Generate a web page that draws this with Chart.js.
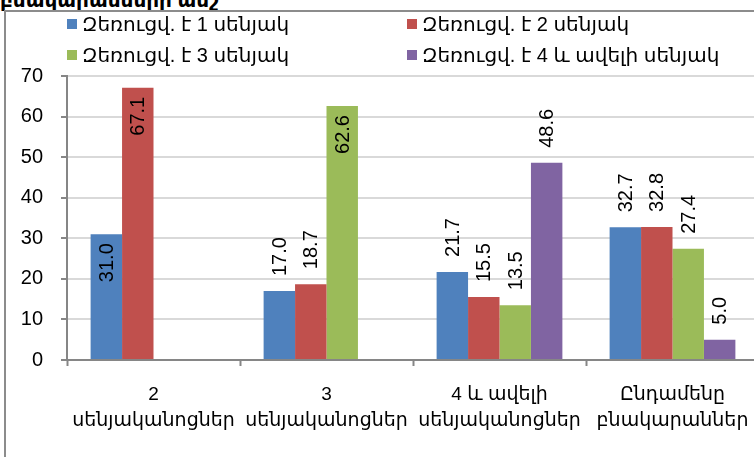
<!DOCTYPE html>
<html>
<head>
<meta charset="utf-8">
<script src="https://cdn.jsdelivr.net/npm/chart.js@4/dist/chart.umd.min.js"></script>
<style>
  html, body { margin: 0; padding: 0; width: 754px; height: 457px; overflow: hidden; background: #fff; }
  #title { position: absolute; left: 0; top: -11px; font: bold 20px Arial, "DejaVu Sans", sans-serif; white-space: nowrap; color: #000; line-height: 22px; }
  #frame { position: absolute; left: 4px; top: 10px; width: 820px; height: 520px; border: 2px solid #8c8c8c; box-sizing: border-box; }
  #chart { position: absolute; left: 0; top: 0; }
  #legend { position: absolute; left: 67px; top: 12px; display: grid; grid-template-columns: 340px auto; grid-auto-rows: 31px; font: 20px Arial, "DejaVu Sans", sans-serif; color: #000; }
  .item { display: flex; align-items: center; white-space: nowrap; height: 24px; }
  .swatch { width: 10px; height: 10px; margin-right: 5px; flex: none; }
</style>
</head>
<body>
<div id="title">բնակարանների ամշ</div>
<div id="frame"></div>
<canvas id="chart" width="800" height="457"></canvas>
<div id="legend"></div>
<script>
// Categories (two-line axis labels)
const categories = [
  ["2", "սենյականոցներ"],
  ["3", "սենյականոցներ"],
  ["4 և ավելի", "սենյականոցներ"],
  ["Ընդամենը", "բնակարաններ"]
];

// Series names
const seriesNames = [
  "Զեռուցվ. է 1 սենյակ",
  "Զեռուցվ. է 2 սենյակ",
  "Զեռուցվ. է 3 սենյակ",
  "Զեռուցվ. է 4 և ավելի սենյակ"
];

// Series values, %
const heated1 = [31.0, 17.0, 21.7, 32.7];
const heated2 = [67.1, 18.7, 15.5, 32.8];
const heated3 = [null, 62.6, 13.5, 27.4];
const heated4 = [null, null, 48.6, 5.0];

// Value axis ticks
const yTicks = [0, 10, 20, 30, 40, 50, 60, 70];

const colors = ["#4F81BD", "#C0504D", "#9BBB59", "#8064A2"];
const FONT = "Arial, 'DejaVu Sans', sans-serif";

// Value labels drawn inside the bar top for these [dataset, index] pairs
const insideLabels = [[0, 0], [1, 0], [2, 1]];

const valueLabels = {
  id: "valueLabels",
  afterDatasetsDraw(chart) {
    const ctx = chart.ctx;
    ctx.save();
    ctx.font = "20px " + FONT;
    ctx.fillStyle = "#000";
    ctx.textBaseline = "middle";
    chart.data.datasets.forEach((ds, di) => {
      const meta = chart.getDatasetMeta(di);
      meta.data.forEach((bar, i) => {
        const v = ds.data[i];
        if (v === null || v === undefined) return;
        const inside = insideLabels.some(p => p[0] === di && p[1] === i);
        ctx.save();
        if (inside) {
          ctx.translate(bar.x + 1, bar.y + 9);
          ctx.rotate(-Math.PI / 2);
          ctx.textAlign = "right";
        } else {
          ctx.translate(bar.x + 1, bar.y - 15);
          ctx.rotate(-Math.PI / 2);
          ctx.textAlign = "left";
        }
        ctx.fillText(v.toFixed(1), 0, 0);
        ctx.restore();
      });
    });
    ctx.restore();
  }
};

// HTML legend in two columns
const legendEl = document.getElementById("legend");
seriesNames.forEach((name, i) => {
  const item = document.createElement("div");
  item.className = "item";
  const sw = document.createElement("span");
  sw.className = "swatch";
  sw.style.background = colors[i];
  const tx = document.createElement("span");
  tx.textContent = name;
  item.appendChild(sw);
  item.appendChild(tx);
  legendEl.appendChild(item);
});

const seriesValues = [heated1, heated2, heated3, heated4];

new Chart(document.getElementById("chart"), {
  type: "bar",
  data: {
    labels: categories,
    datasets: seriesValues.map((vals, i) => ({
      label: seriesNames[i],
      data: vals,
      backgroundColor: colors[i],
      borderWidth: 0,
      categoryPercentage: 0.727,
      barPercentage: 1.0
    }))
  },
  options: {
    responsive: false,
    animation: false,
    events: [],
    layout: { padding: { left: 0, right: 41, top: 76, bottom: 0 } },
    plugins: {
      legend: { display: false },
      title: { display: false },
      tooltip: { enabled: false }
    },
    scales: {
      x: {
        grid: {
          display: true,
          drawOnChartArea: false,
          drawTicks: true,
          tickLength: 6,
          tickColor: "#868686",
          tickWidth: 2,
          offset: true
        },
        border: { color: "#868686", width: 2 },
        ticks: {
          color: "#000",
          font: { family: FONT, size: 19, lineHeight: 1.4 },
          padding: 15,
          maxRotation: 0,
          autoSkip: false
        },
        afterFit(scale) { scale.height = 97; }
      },
      y: {
        min: 0,
        max: 70,
        afterBuildTicks(scale) { scale.ticks = yTicks.map(v => ({ value: v })); },
        grid: {
          color: "#d9d9d9",
          lineWidth: 2,
          drawTicks: true,
          tickLength: 6,
          tickColor: "#868686",
          tickWidth: 2
        },
        border: { color: "#868686", width: 2 },
        ticks: {
          color: "#000",
          font: { family: FONT, size: 20 },
          padding: 18,
          callback: v => String(v)
        },
        afterFit(scale) { scale.width = 67; }
      }
    }
  },
  plugins: [valueLabels]
});
</script>
</body>
</html>
